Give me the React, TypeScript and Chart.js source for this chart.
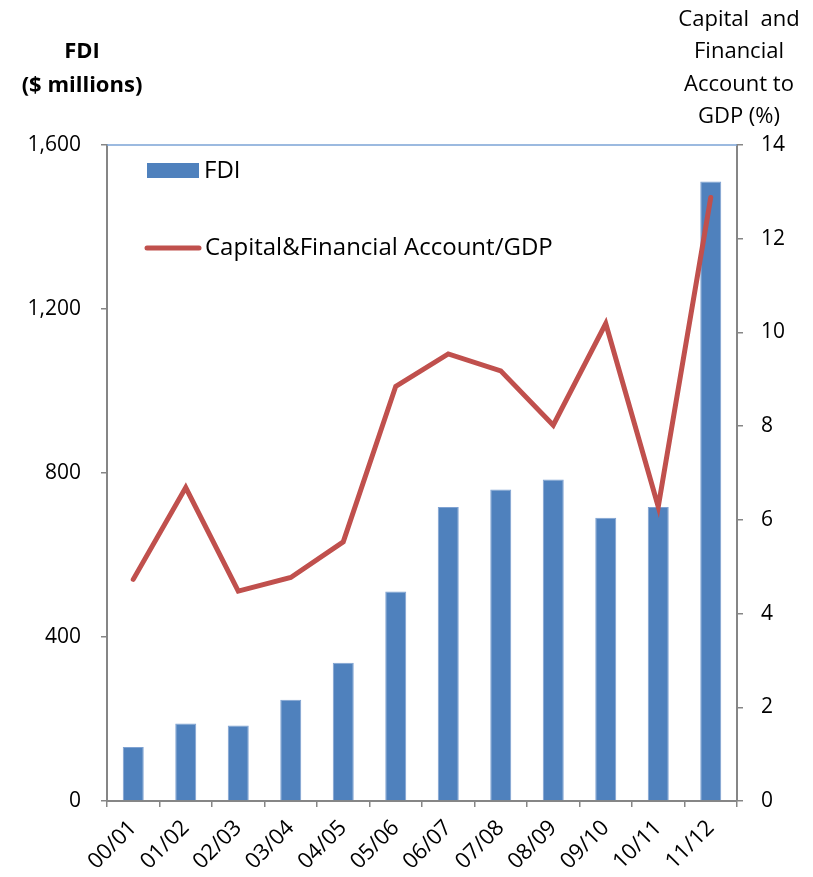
import React, { useEffect, useRef } from "react";
import { Chart, registerables } from "chart.js";

Chart.register(...registerables);

const categories = ["00/01", "01/02", "02/03", "03/04", "04/05", "05/06", "06/07", "07/08", "08/09", "09/10", "10/11", "11/12"];
const fdiValues = [132, 189, 184, 247, 337, 511, 717, 760, 784, 691, 717, 1511];
const capFinGdpValues = [4.73, 6.69, 4.48, 4.77, 5.53, 8.85, 9.54, 9.18, 8.02, 10.19, 6.28, 12.88];
const leftTicks = [0, 400, 800, 1200, 1600];
const rightTicks = [0, 2, 4, 6, 8, 10, 12, 14];
const leftTitleLines = ["FDI", "($ millions)"];
const rightTitleLines = ["Capital  and", "Financial", "Account to", "GDP (%)"];
const fdiLabel = "FDI";
const lineLabel = "Capital&Financial Account/GDP";

const FONT = "'Open Sans', 'DejaVu Sans', sans-serif";
const BAR_COLOR = "#4f81bd";
const LINE_COLOR = "#c0504d";
const AXIS_COLOR = "#868686";

export default function App() {
  const canvasRef = useRef<HTMLCanvasElement | null>(null);

  useEffect(() => {
    if (!canvasRef.current) return;

    const decorPlugin = {
      id: "decor",
      afterDraw(chart: any) {
        const ctx = chart.ctx;
        const area = chart.chartArea;
        ctx.save();
        // top border line
        ctx.strokeStyle = "#7ba3d6";
        ctx.lineWidth = 1.5;
        ctx.beginPath();
        ctx.moveTo(area.left, area.top);
        ctx.lineTo(area.right, area.top);
        ctx.stroke();

        // left title
        ctx.fillStyle = "#000";
        ctx.textAlign = "center";
        ctx.textBaseline = "middle";
        ctx.font = `bold 22px ${FONT}`;
        ctx.fillText(leftTitleLines[0], 82, 52);
        ctx.fillText(leftTitleLines[1], 82, 86);

        // right title
        ctx.font = `22px ${FONT}`;
        const ys = [20, 52, 85, 117];
        rightTitleLines.forEach((t, i) => ctx.fillText(t, 739, ys[i]));

        // legend
        ctx.textAlign = "left";
        ctx.font = `24px ${FONT}`;
        ctx.fillStyle = BAR_COLOR;
        ctx.fillRect(147, 163, 52, 15);
        ctx.fillStyle = "#000";
        ctx.fillText(chart.data.datasets[1].label, 204, 171);

        ctx.strokeStyle = LINE_COLOR;
        ctx.lineWidth = 5;
        ctx.lineCap = "round";
        ctx.beginPath();
        ctx.moveTo(147, 248);
        ctx.lineTo(199, 248);
        ctx.stroke();
        ctx.fillStyle = "#000";
        ctx.fillText(chart.data.datasets[0].label, 205, 248);
        ctx.restore();
      },
    };

    const chart = new Chart(canvasRef.current, {
      type: "bar",
      data: {
        labels: categories,
        datasets: [
          {
            type: "line",
            label: lineLabel,
            data: capFinGdpValues,
            yAxisID: "y1",
            borderColor: LINE_COLOR,
            backgroundColor: LINE_COLOR,
            borderWidth: 5,
            pointRadius: 0,
            tension: 0,
            borderCapStyle: "round",
            borderJoinStyle: "miter",
            order: 0,
          } as any,
          {
            type: "bar",
            label: fdiLabel,
            data: fdiValues,
            yAxisID: "y",
            backgroundColor: BAR_COLOR,
            borderColor: "#7fa2d2",
            borderWidth: 1,
            barPercentage: 0.4,
            categoryPercentage: 1,
            order: 1,
          } as any,
        ],
      },
      options: {
        animation: false,
        responsive: true,
        maintainAspectRatio: false,
        layout: { padding: { top: 145, left: 0, right: 0, bottom: 0 } },
        plugins: {
          legend: { display: false },
          tooltip: { enabled: false },
          title: { display: false },
        },
        scales: {
          x: {
            offset: true,
            grid: {
              offset: true,
              drawOnChartArea: false,
              drawTicks: true,
              tickLength: 6,
              color: AXIS_COLOR,
              lineWidth: 1.5,
            },
            border: { color: AXIS_COLOR, width: 2 },
            ticks: {
              color: "#000",
              font: { family: FONT, size: 22 },
              minRotation: 45,
              maxRotation: 45,
              autoSkip: false,
              padding: 8,
            },
            afterFit(scale: any) {
              scale.height = 76;
            },
          },
          y: {
            position: "left",
            min: 0,
            max: 1600,
            grid: {
              drawOnChartArea: false,
              drawTicks: true,
              tickLength: 6,
              color: AXIS_COLOR,
              lineWidth: 1.5,
            },
            border: { color: AXIS_COLOR, width: 2 },
            ticks: {
              color: "#000",
              font: { family: FONT, size: 21 },
              padding: 20,
              callback: (v: any) => Number(v).toLocaleString("en-US"),
            },
            afterBuildTicks(scale: any) {
              scale.ticks = leftTicks.map((v) => ({ value: v }));
            },
            afterFit(scale: any) {
              scale.width = 107;
            },
          },
          y1: {
            position: "right",
            min: 0,
            max: 14,
            grid: {
              drawOnChartArea: false,
              drawTicks: true,
              tickLength: 6,
              color: AXIS_COLOR,
              lineWidth: 1.5,
            },
            border: { color: AXIS_COLOR, width: 2 },
            ticks: {
              color: "#000",
              font: { family: FONT, size: 21 },
              padding: 18,
            },
            afterBuildTicks(scale: any) {
              scale.ticks = rightTicks.map((v) => ({ value: v }));
            },
            afterFit(scale: any) {
              scale.width = 76;
            },
          },
        },
      },
      plugins: [decorPlugin],
    });

    return () => chart.destroy();
  }, []);

  return (
    <div style={{ position: "absolute", left: 0, top: 0, width: 813, height: 877, background: "#fff" }}>
      <canvas ref={canvasRef} />
    </div>
  );
}
